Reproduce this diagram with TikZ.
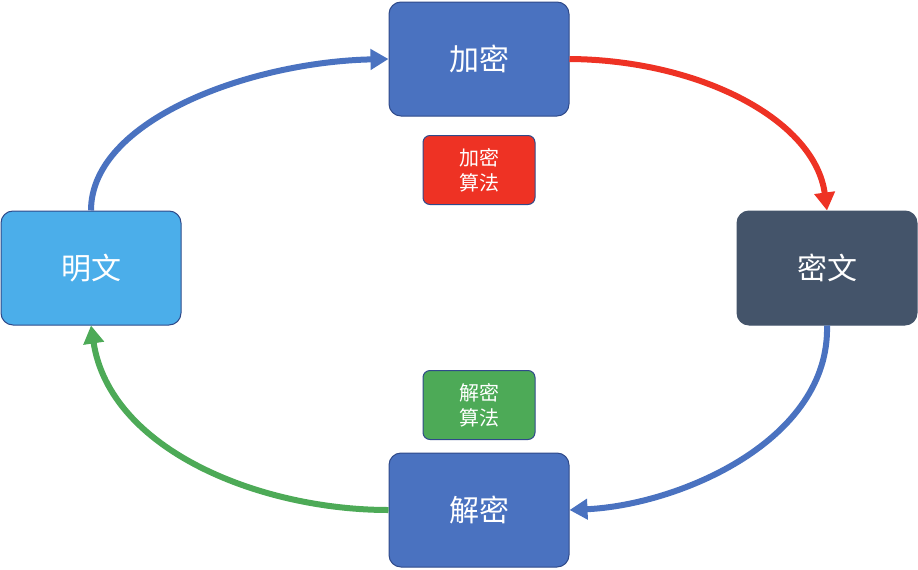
\documentclass[tikz,border=0pt]{standalone}
\usepackage{fontspec}
\setmainfont{Noto Sans CJK SC}
\usetikzlibrary{arrows.meta}
\definecolor{bblue}{HTML}{4A72C0}
\definecolor{lblue}{HTML}{4BAEEA}
\definecolor{slate}{HTML}{44546A}
\definecolor{rred}{HTML}{EE3224}
\definecolor{ggreen}{HTML}{4DAA57}
\definecolor{edge}{HTML}{2F4A8A}
\begin{document}
\begin{tikzpicture}[x=1pt,y=-1pt,
  big/.style={draw=edge,line width=1pt,rounded corners=12pt,minimum width=180pt,minimum height=114pt,text=white,font=\fontsize{30}{32}\selectfont,inner sep=0pt},
  small/.style={draw=edge,line width=1pt,rounded corners=7pt,minimum width=112pt,minimum height=69pt,text=white,font=\fontsize{20}{25}\selectfont,align=center,inner sep=0pt},
  arr/.style={line width=6pt,-{Triangle[length=18pt,width=20pt]}}]
\useasboundingbox (0,0) rectangle (918,570);
\node[big,fill=bblue] (enc) at (479,59) {加密};
\node[big,fill=lblue] (pt) at (91,268) {明文};
\node[big,fill=slate,draw=slate] (ct) at (827,268) {密文};
\node[big,fill=bblue] (dec) at (479,510) {解密};
\node[small,fill=rred] (ea) at (479,170) {加密\\算法};
\node[small,fill=ggreen] (da) at (479,405) {解密\\算法};
\draw[arr,bblue] (pt.north) .. controls (91,120) and (250,62) .. (enc.west);
\draw[arr,rred] (enc.east) .. controls (700,60) and (815,120) .. (ct.north);
\draw[arr,bblue] (ct.south) .. controls (830,440) and (680,505) .. (dec.east);
\draw[arr,ggreen] (dec.west) .. controls (260,510) and (110,450) .. (pt.south);
\end{tikzpicture}
\end{document}
